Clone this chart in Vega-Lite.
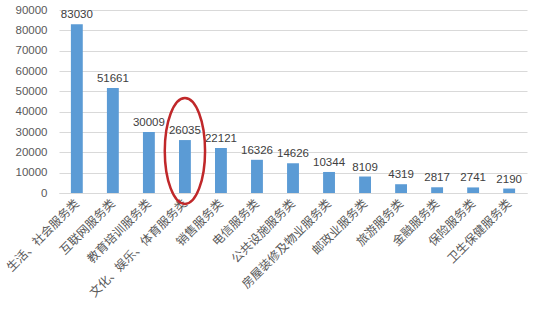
{
  "$schema": "https://vega.github.io/schema/vega-lite/v6.json",
  "width": 468,
  "height": 183,
  "autosize": {"type": "none"},
  "padding": {"left": 59, "top": 10, "right": 13, "bottom": 122},
  "background": "white",
  "config": {"view": {"stroke": null}, "font": "Noto Sans CJK SC"},
  "datasets": {
    "bars": [
      {"category": "生活、社会服务类", "value": 83030},
      {"category": "互联网服务类", "value": 51661},
      {"category": "教育培训服务类", "value": 30009},
      {"category": "文化、娱乐、体育服务类", "value": 26035},
      {"category": "销售服务类", "value": 22121},
      {"category": "电信服务类", "value": 16326},
      {"category": "公共设施服务类", "value": 14626},
      {"category": "房屋装修及物业服务类", "value": 10344},
      {"category": "邮政业服务类", "value": 8109},
      {"category": "旅游服务类", "value": 4319},
      {"category": "金融服务类", "value": 2817},
      {"category": "保险服务类", "value": 2741},
      {"category": "卫生保健服务类", "value": 2190}
    ],
    "mark": [
      {"category": "文化、娱乐、体育服务类", "value": 20700}
    ]
  },
  "encoding": {
    "x": {
      "field": "category",
      "type": "nominal",
      "sort": null,
      "scale": {"paddingInner": 0.67, "paddingOuter": 0.33},
      "axis": {
        "title": null,
        "labelAngle": -45,
        "labelAlign": "right",
        "labelBaseline": "middle",
        "labelFontSize": 12,
        "labelColor": "#595959",
        "labelPadding": 8,
        "labelOverlap": false,
        "labelBound": false,
        "ticks": false,
        "domainColor": "#d9d9d9",
        "labelFont": "Noto Sans CJK SC"
      }
    },
    "y": {
      "field": "value",
      "type": "quantitative",
      "scale": {"domain": [0, 90000]},
      "axis": {
        "title": null,
        "values": [0,10000,20000,30000,40000,50000,60000,70000,80000,90000],
        "format": "d",
        "labelOverlap": false,
        "labelFontSize": 11.5,
        "labelColor": "#595959",
        "labelPadding": 12,
        "ticks": false,
        "domain": false,
        "grid": true,
        "gridColor": "#d9d9d9",
        "labelFont": "Liberation Sans"
      }
    }
  },
  "layer": [
    {
      "data": {"name": "bars"},
      "mark": {"type": "bar", "color": "#5b9bd5"}
    },
    {
      "data": {"name": "bars"},
      "mark": {"type": "text", "dy": -9, "fontSize": 11.5, "color": "#404040", "font": "Liberation Sans"},
      "encoding": {
        "text": {"field": "value", "type": "quantitative", "format": "d"}
      }
    },
    {
      "data": {"name": "mark"},
      "mark": {
        "type": "point",
        "shape": "M -0.38 0 A 0.38 1 0 1 1 0.38 0 A 0.38 1 0 1 1 -0.38 0 Z",
        "size": 11236,
        "filled": false,
        "stroke": "#c0282a",
        "strokeWidth": 2.5,
        "opacity": 1
      }
    }
  ]
}
